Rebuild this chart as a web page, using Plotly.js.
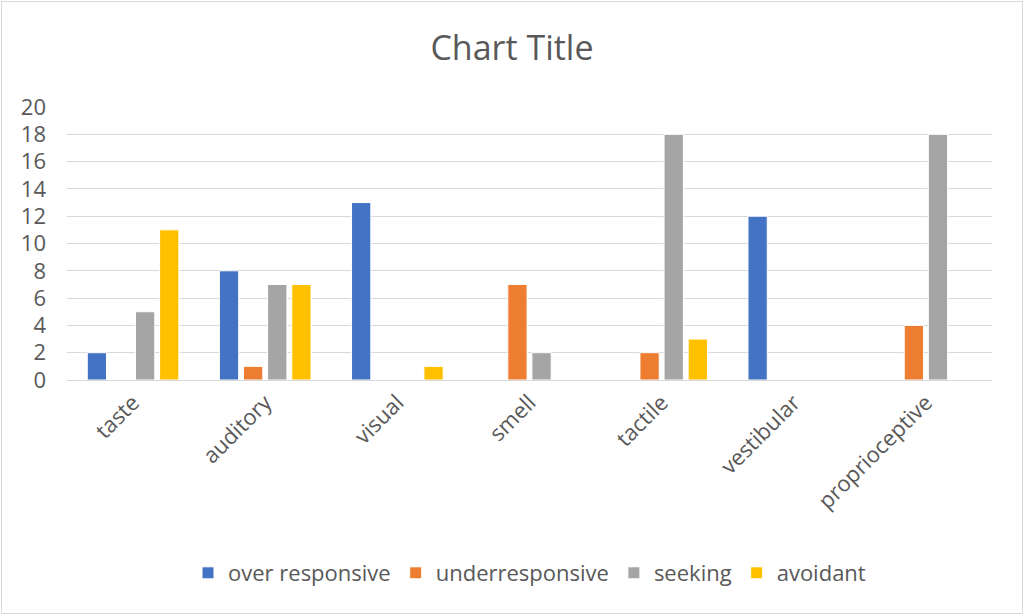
<!DOCTYPE html>
<html><head><meta charset="utf-8">
<script src="https://cdn.plot.ly/plotly-3.0.1.min.js"></script>
<style>html,body{margin:0;padding:0;background:#fff;}#frame{position:absolute;left:1px;top:1px;width:1020px;height:611px;border:1px solid #d9d9d9;}#chart{position:absolute;left:0;top:0;width:1024px;height:615px;}</style>
</head><body>
<div id="frame"></div>
<div id="chart"></div>
<script>
const categories = ["taste","auditory","visual","smell","tactile","vestibular","proprioceptive"];
const overResponsive = [2,8,13,0,0,12,0];
const underResponsive = [0,1,0,7,2,0,4];
const seeking = [5,7,0,2,18,0,18];
const avoidant = [11,7,1,0,3,0,0];
const seriesNames = ["over responsive","underresponsive","seeking","avoidant"];
const seriesValues = [overResponsive, underResponsive, seeking, avoidant];
const colors = ["#4472C4","#ED7D31","#A5A5A5","#FFC000"];
const font = "Open Sans, Liberation Sans, sans-serif";
const traces = seriesValues.map((v,i)=>({
  type:'bar', name:seriesNames[i], x:categories, y:v,
  marker:{color:colors[i], line:{color:'#ffffff', width:1}},
  hoverinfo:'x+y'
}));
const layout = {
  width:1024, height:615,
  paper_bgcolor:'rgba(0,0,0,0)', plot_bgcolor:'rgba(0,0,0,0)',
  margin:{l:67, r:32, t:107, b:235},
  title:{text:'Chart Title', font:{family:font, size:34, color:'#595959'}, x:0.5, xanchor:'center', y:0.922, yanchor:'middle'},
  barmode:'group', bargap:0.27, bargroupgap:0.2,
  xaxis:{tickangle:-45, tickfont:{family:font, size:22, color:'#595959'}, showline:true, linecolor:'#d9d9d9', linewidth:1, ticks:'', showgrid:false},
  yaxis:{range:[0,20], dtick:2, tickfont:{family:font, size:22, color:'#595959'}, gridcolor:'#d9d9d9', gridwidth:1, zeroline:false, showline:false, ticklabelstandoff:20},
  showlegend:true,
  legend:{orientation:'h', x:0.5, xanchor:'center', y:-0.707, yanchor:'middle', font:{family:font, size:22, color:'#595959'}, itemwidth:30, traceorder:'normal'}
};
Plotly.newPlot('chart', traces, layout, {displayModeBar:false, staticPlot:true});
</script>
</body></html>
